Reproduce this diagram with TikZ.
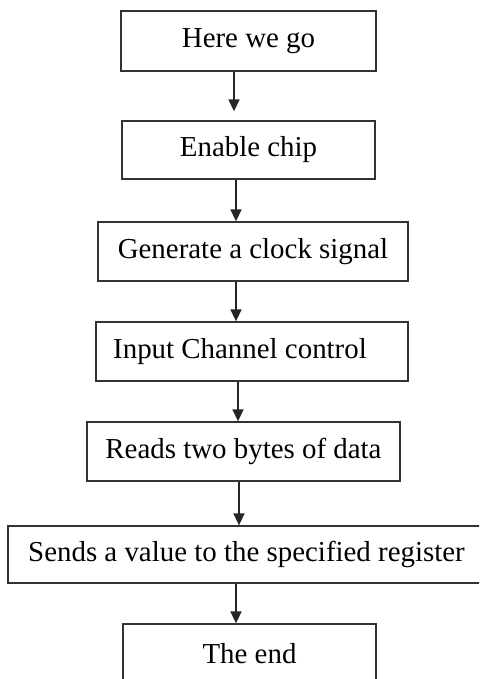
\documentclass[tikz,border=0pt]{standalone}
\usepackage{fontspec}
\setmainfont{Liberation Serif}
\usetikzlibrary{arrows.meta}
\begin{document}
\begin{tikzpicture}[x=1pt,y=-1pt,
    proc/.style =
    {   shape=rectangle, draw=black!80,
        line width=1.3pt, fill=white,
        inner sep=0pt,
        minimum height = 59pt,
        font=\fontsize{28.9pt}{34pt}\selectfont,
     },
    flow/.style = {draw=black!85, line width=1.6pt,
        -{Triangle[length=12pt,width=11pt]}}  ]
\useasboundingbox (0,0) rectangle (479,679);
\clip (0,0) rectangle (479,679);
\node[proc, minimum width=255pt, minimum height=60pt] (start) at (248.5,41) {Here we go};
\node[proc, minimum width=253pt, minimum height=58pt] (chip) at (248.5,150) {Enable chip};
\node[proc, minimum width=310pt] (clock) at (253,251.5) {Generate a clock signal};
\node[proc, minimum width=312pt] (channel) at (252,351.5) {Input Channel control\kern24pt};
\node[proc, minimum width=313pt] (read) at (243.5,451.5) {Reads two bytes of data};
\node[proc, minimum width=477pt, minimum height=57pt] (send) at (246.5,554.5) {Sends a value to the specified register};
\node[proc, minimum width=253pt, minimum height=60pt] (stop) at (249.5,654) {The end};
% connectors
\foreach \a/\b/\x/\gap in {start/chip/234/9, chip/clock/236/0, clock/channel/236/0,
    channel/read/238/0, read/send/239/0, send/stop/236/0}
{
  \coordinate (col) at (\x,0);
  \draw[flow, shorten >=\gap pt] (\a.south -| col) -- (\b.north -| col);
}
\end{tikzpicture}
\end{document}
